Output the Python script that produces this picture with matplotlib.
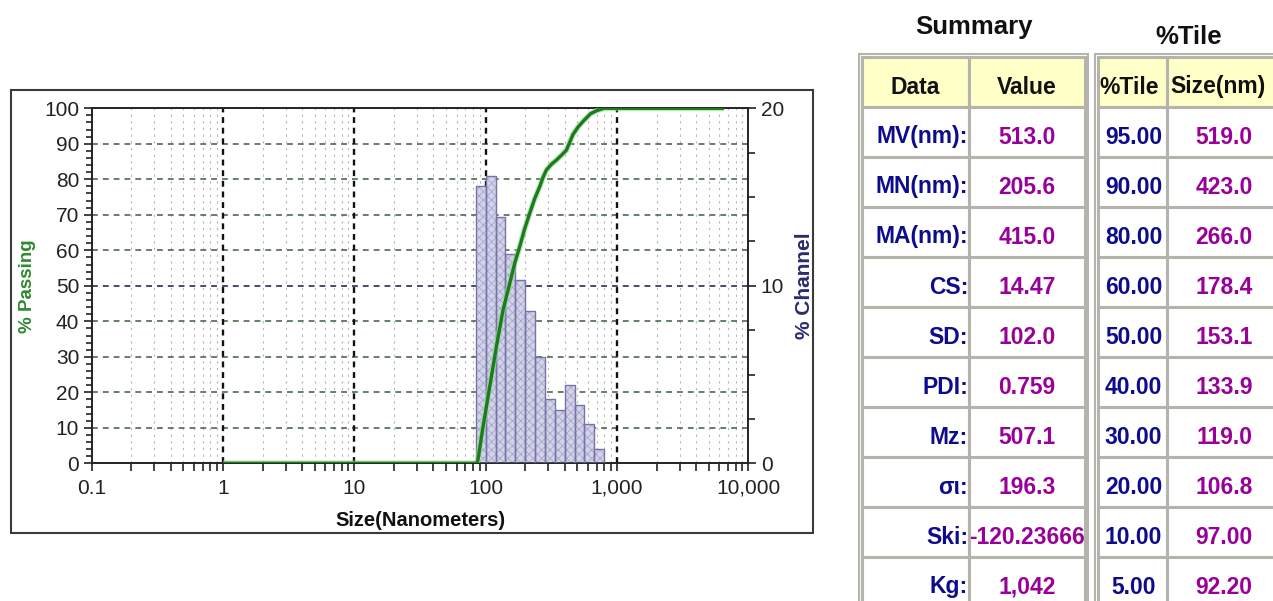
import numpy as np
import matplotlib
matplotlib.use("Agg")
import matplotlib.pyplot as plt
from matplotlib.patches import Rectangle
from matplotlib.ticker import MultipleLocator, LogLocator, NullFormatter

# ---------------- data ----------------
bin_edges_nm = [84.1, 100.0, 118.9, 141.4, 168.2, 200.0, 237.8, 282.8,
                336.4, 400.0, 475.7, 565.7, 672.7, 800.0]
channel_pct = [15.6, 16.2, 13.9, 11.8, 10.3, 8.6, 6.0, 3.6, 3.0, 4.4, 3.3, 2.2, 0.8]

curve_size_nm = [1.0, 86.0, 87.4, 95.4, 107.3, 120.6, 135.5, 152.3, 166.0, 181.5, 198.0, 216.3,
                 236.0, 257.8, 273.0, 289.8, 316.0, 345.3, 378.0, 411.9, 462.0, 505.0,
                 551.0, 630.0, 697.0, 793.0, 6540.0]
curve_passing = [0, 0, 1.0, 10.2, 21.5, 32.8, 43.1, 50.6, 56.2, 61.0, 66.0, 70.4,
                 74.5, 77.9, 80.5, 82.6, 84.2, 85.4, 86.8, 88.2, 92.6, 94.7,
                 96.3, 98.5, 99.3, 100, 100]

x_tick_values = [0.1, 1, 10, 100, 1000, 10000]
x_tick_labels = ["0.1", "1", "10", "100", "1,000", "10,000"]
y_tick_values = [0, 10, 20, 30, 40, 50, 60, 70, 80, 90, 100]
y2_tick_values = [0, 10, 20]

summary_labels = ["MV(nm):", "MN(nm):", "MA(nm):", "CS:", "SD:", "PDI:", "Mz:", "σι:", "Ski:", "Kg:"]
summary_values = ["513.0", "205.6", "415.0", "14.47", "102.0", "0.759", "507.1", "196.3", "-120.23666", "1,042"]
tile_pcts = ["95.00", "90.00", "80.00", "60.00", "50.00", "40.00", "30.00", "20.00", "10.00", "5.00"]
tile_sizes = ["519.0", "423.0", "266.0", "178.4", "153.1", "133.9", "119.0", "106.8", "97.00", "92.20"]

# ---------------- figure ----------------
plt.rcParams['font.family'] = ['Liberation Sans', 'DejaVu Sans']
plt.rcParams['hatch.linewidth'] = 0.5
W, H = 1273, 601
fig = plt.figure(figsize=(W / 100, H / 100), dpi=100)

# overlay axes in pixel coords
ov = fig.add_axes([0, 0, 1, 1])
ov.set_xlim(0, W)
ov.set_ylim(H, 0)
ov.axis('off')
ov.add_patch(Rectangle((11, 90), 802, 443, fill=False, edgecolor='#3a3a3a', lw=1.5))

# chart axes
left_px, right_px, top_px, bot_px = 91.7, 748.3, 108.3, 463.3
ax = fig.add_axes([left_px / W, (H - bot_px) / H, (right_px - left_px) / W, (bot_px - top_px) / H])
ax.set_xscale('log')
ax.set_xlim(0.1, 10000)
ax.set_ylim(0, 100)
ax.patch.set_facecolor('white')

# grid
for v in y_tick_values[1:-1]:
    col = '#2a2a55' if v == 50 else '#4b6a4b'
    ax.axhline(v, color=col, lw=1.2, ls=(0, (3.5, 3)), zorder=1)
for v in x_tick_values[1:-1]:
    ax.axvline(v, color='#111111', lw=1.7, ls=(0, (2.5, 2)), zorder=1)
ax.xaxis.set_minor_locator(LogLocator(base=10, subs=[2, 3, 4, 5, 6, 7, 8, 9], numticks=20))
ax.xaxis.set_minor_formatter(NullFormatter())
ax.grid(True, which='minor', axis='x', color='#b5b5b5', lw=0.8, ls=(0, (2, 4)))
ax.set_axisbelow(True)

ax.set_xticks(x_tick_values, labels=x_tick_labels)
ax.set_yticks(y_tick_values)
ax.yaxis.set_minor_locator(MultipleLocator(2))
ax.tick_params(axis='both', which='major', direction='out', length=6, width=1.2,
               labelsize=15, colors='#222222', pad=3)
ax.tick_params(axis='x', which='major', pad=5)
ax.tick_params(axis='both', which='minor', direction='out', length=6, width=1.2, colors='#222222')
ax.tick_params(axis='y', which='minor', length=4)
for s in ax.spines.values():
    s.set_color('#222222')
    s.set_linewidth(1.2)

ax.set_ylabel('% Passing', color='#2e8b2e', fontsize=13.5, fontweight='bold', labelpad=6)
ax.set_xlabel('Size(Nanometers)', color='#111111', fontsize=14.5, fontweight='bold', labelpad=10)

# right axis: % channel
ax2 = ax.twinx()
ax2.set_ylim(0, 20)
ax2.set_yticks(y2_tick_values)
ax2.yaxis.set_minor_locator(MultipleLocator(2.5))
ax2.tick_params(axis='y', which='major', direction='out', length=6, width=1.2,
                labelsize=15, colors='#222222', pad=3)
ax2.tick_params(axis='y', which='minor', direction='out', length=5, width=1.2, colors='#222222')
for s in ax2.spines.values():
    s.set_color('#222222')
    s.set_linewidth(1.2)
ax2.set_ylabel('% Channel', color='#2a2a70', fontsize=15, fontweight='bold', labelpad=8)

widths = np.diff(bin_edges_nm)
ax2.bar(bin_edges_nm[:-1], channel_pct, width=widths, align='edge',
        facecolor='#d2d2e8', edgecolor='#a0a0c6', hatch='xxxx', lw=0, zorder=2)
ax2.bar(bin_edges_nm[:-1], channel_pct, width=widths, align='edge',
        facecolor='none', edgecolor='#7474a6', lw=1.0, zorder=3)
# cumulative curve (in % passing units), drawn over bars
ax2.plot(curve_size_nm, curve_passing, color='#8fd88f', lw=4.2, transform=ax.transData,
         zorder=4, solid_capstyle='butt', alpha=0.6)
ax2.plot(curve_size_nm, curve_passing, color='#1d7a1d', lw=2.4, transform=ax.transData,
         zorder=5, solid_capstyle='butt')
ax2.set_xlim(0.1, 10000)
ax2.set_ylim(0, 20)

# ---------------- tables ----------------
row_y = [57 + 50 * i for i in range(12)]
t1x = [862, 969, 1085]
t2x = [1098, 1167, 1295]
navy = '#0c0c8c'
purple = '#990099'
border = '#b4b4ac'
fs = 16.5

def cell(x0, x1, y0, y1, fc):
    ov.add_patch(Rectangle((x0, y0), x1 - x0, y1 - y0, facecolor=fc, edgecolor=border, lw=2.2))

for tx in (t1x, t2x):
    ov.add_patch(Rectangle((tx[0] - 3, row_y[0] - 3), tx[2] - tx[0] + 6, 700,
                           facecolor='white', edgecolor=border, lw=1.5))
    for r in range(11):
        fc = '#ffffc8' if r == 0 else 'white'
        cell(tx[0], tx[1], row_y[r], row_y[r + 1], fc)
        cell(tx[1], tx[2], row_y[r], row_y[r + 1], fc)

ov.text(974, 27, 'Summary', ha='center', va='center', fontsize=18.5, fontweight='bold', color='#111111')
ov.text(1189, 37, '%Tile', ha='center', va='center', fontsize=18.5, fontweight='bold', color='#111111')

hy = (row_y[0] + row_y[1]) / 2 + 5
ov.text((t1x[0] + t1x[1]) / 2, hy, 'Data', ha='center', va='center', fontsize=fs, fontweight='bold', color='#111111')
ov.text((t1x[1] + t1x[2]) / 2, hy, 'Value', ha='center', va='center', fontsize=fs, fontweight='bold', color='#111111')
ov.text(t2x[0] + 1, hy, '%Tile', ha='left', va='center', fontsize=fs, fontweight='bold', color='#111111')
ov.text(t2x[1] + 3, hy, 'Size(nm)', ha='left', va='center', fontsize=fs, fontweight='bold', color='#111111')

for i in range(10):
    yc = (row_y[i + 1] + row_y[i + 2]) / 2 + 5
    ov.text(t1x[1] - 1, yc, summary_labels[i], ha='right', va='center', fontsize=fs,
            fontweight='bold', color=navy, family=['Liberation Sans', 'DejaVu Sans'])
    t = ov.text((t1x[1] + t1x[2]) / 2, yc, summary_values[i], ha='center', va='center',
                fontsize=fs, fontweight='bold', color=purple)
    clip = Rectangle((t1x[1] - 8, row_y[i + 1]), t1x[2] - t1x[1] + 8, 50, transform=ov.transData)
    t.set_clip_path(clip)
    ov.text((t2x[0] + t2x[1]) / 2 + 1, yc, tile_pcts[i], ha='center', va='center', fontsize=fs,
            fontweight='bold', color=navy)
    ov.text(1224, yc, tile_sizes[i], ha='center', va='center', fontsize=fs,
            fontweight='bold', color=purple)

fig.savefig('out.png', dpi=100)
